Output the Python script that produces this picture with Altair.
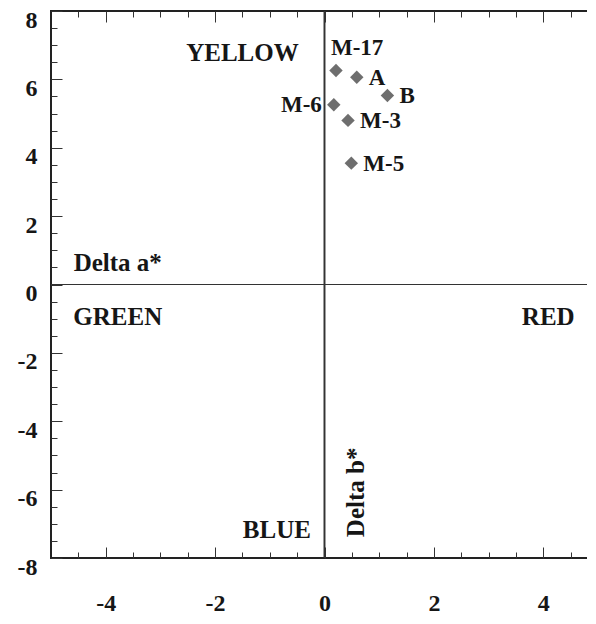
import altair as alt
import pandas as pd

# ---- data ----
names = ["M-17", "A", "B", "M-6", "M-3", "M-5"]
delta_a = [0.21, 0.59, 1.15, 0.17, 0.43, 0.49]
delta_b = [6.26, 6.06, 5.53, 5.26, 4.80, 3.55]
label_side = ["top", "right", "right", "left", "right", "right"]

x_major = [-4, -2, 0, 2, 4]
x_minor = [-4.5, -3.5, -3, -2.5, -1.5, -1, -0.5, 0.5, 1, 1.5, 2.5, 3, 3.5, 4.5]
y_major = [-8, -6, -4, -2, 0, 2, 4, 6, 8]
y_minor = [-7.5, -7, -6.5, -5.5, -5, -4.5, -3.5, -3, -2.5, -1.5, -1, -0.5,
           0.5, 1, 1.5, 2.5, 3, 3.5, 4.5, 5, 5.5, 6.5, 7, 7.5]

quad_text = ["YELLOW", "GREEN", "RED", "BLUE", "Delta a*"]
quad_x = [-1.50, -3.78, 4.09, -0.87, -3.78]
quad_y = [6.78, -0.96, -0.96, -7.19, 0.64]

vtext = ["Delta b*"]
vtext_x = [0.585]
vtext_y = [-6.08]

df = pd.DataFrame({"name": names, "a": delta_a, "b": delta_b, "side": label_side})
qdf = pd.DataFrame({"t": quad_text, "x": quad_x, "y": quad_y})
vdf = pd.DataFrame({"t": vtext, "x": vtext_x, "y": vtext_y})

FONT = "Liberation Serif"
INK = "#161616"

xs = alt.Scale(domain=[-5, 5], nice=False, zero=False)
ys = alt.Scale(domain=[-8, 8], nice=False, zero=False)

common = dict(domain=False, grid=False, title=None, tickColor="#333333", tickWidth=1)


def axis_layer(xaxis, yaxis):
    return alt.Chart(df).mark_point(opacity=0).encode(
        x=alt.X("a:Q", scale=xs, axis=xaxis),
        y=alt.Y("b:Q", scale=ys, axis=yaxis),
    )


lab = dict(labelFont=FONT, labelFontWeight="bold", labelFontSize=24, labelColor=INK,
           labelExpr="toString(datum.value)", labelFlush=False, labelOverlap=False)

ax_major = axis_layer(
    alt.Axis(orient="bottom", values=x_major, tickSize=11, offset=-11, labelPadding=33, **lab, **common),
    alt.Axis(orient="left", values=y_major, tickSize=11, offset=-11, labelPadding=14, labelOffset=9, **lab, **common),
)
ax_minor = axis_layer(
    alt.Axis(orient="bottom", values=x_minor, tickSize=6, offset=-6, labels=False, **common),
    alt.Axis(orient="left", values=y_minor, tickSize=6, offset=-6, labels=False, **common),
)
ax_top_major = axis_layer(
    alt.Axis(orient="top", values=x_major, tickSize=11, offset=-11, labels=False, **common),
    alt.Axis(orient="right", values=y_major, tickSize=11, offset=-11, labels=False, **common),
)
ax_top_minor = axis_layer(
    alt.Axis(orient="top", values=x_minor, tickSize=6, offset=-6, labels=False, **common),
    alt.Axis(orient="right", values=y_minor, tickSize=6, offset=-6, labels=False, **common),
)

vrule = alt.Chart(df).mark_rule(color="#333333", strokeWidth=1.2).encode(
    x=alt.X(datum=0, type="quantitative", scale=xs, axis=None)
)
hrule = alt.Chart(df).mark_rule(color="#333333", strokeWidth=1.2).encode(
    y=alt.Y(datum=0, type="quantitative", scale=ys, axis=None)
)

pts = alt.Chart(df).mark_point(shape="diamond", filled=True, size=180, color="#6e6e6e", opacity=1).encode(
    x=alt.X("a:Q", scale=xs, axis=None),
    y=alt.Y("b:Q", scale=ys, axis=None),
)

tstyle = dict(font=FONT, fontWeight="bold", fontSize=23, color=INK)


def labels(side, **kw):
    return alt.Chart(df).transform_filter(alt.datum.side == side).mark_text(**tstyle, **kw).encode(
        x=alt.X("a:Q", scale=xs, axis=None),
        y=alt.Y("b:Q", scale=ys, axis=None),
        text="name:N",
    )


lab_right = labels("right", align="left", baseline="middle", dx=12, dy=1)
lab_left = labels("left", align="right", baseline="middle", dx=-12, dy=0)
lab_top = labels("top", align="left", baseline="middle", dx=-5, dy=-22)

quad = alt.Chart(qdf).mark_text(font=FONT, fontWeight="bold", fontSize=25, color=INK,
                                align="center", baseline="middle").encode(
    x=alt.X("x:Q", scale=xs, axis=None),
    y=alt.Y("y:Q", scale=ys, axis=None),
    text="t:N",
)
vert = alt.Chart(vdf).mark_text(font=FONT, fontWeight="bold", fontSize=25, color=INK,
                                align="center", baseline="middle", angle=270).encode(
    x=alt.X("x:Q", scale=xs, axis=None),
    y=alt.Y("y:Q", scale=ys, axis=None),
    text="t:N",
)

chart = alt.layer(
    ax_major, ax_minor, ax_top_major, ax_top_minor,
    vrule, hrule, pts, lab_right, lab_left, lab_top, quad, vert,
).resolve_axis(x="independent", y="independent").properties(
    width=547,
    height=547,
    autosize=alt.AutoSizeParams(type="none"),
    padding={"left": 43, "top": 3, "right": -11, "bottom": 57},
    background="white",
).configure_view(stroke="#222222", strokeWidth=2)

chart.save("out.html", embed_options={"renderer": "svg", "actions": False})
